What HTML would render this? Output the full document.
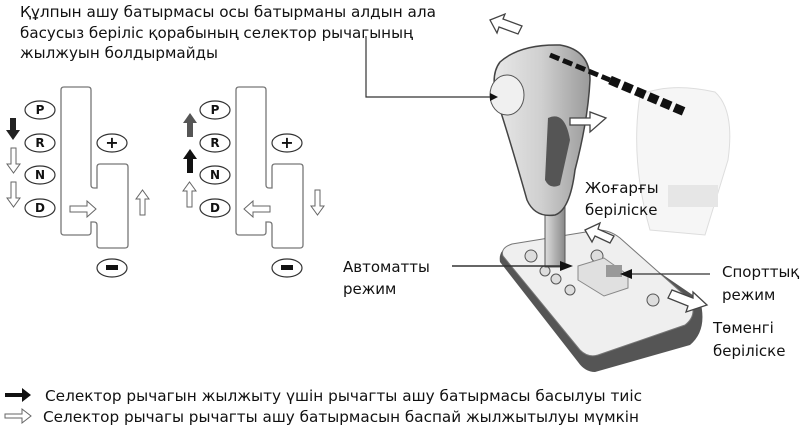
<!DOCTYPE html>
<html><head><meta charset="utf-8"><style>
html,body{margin:0;padding:0;background:#fff;}
svg{display:block;}
text{font-family:"DejaVu Sans","Liberation Sans",sans-serif;fill:#111;}
</style></head><body>
<svg width="800" height="431" viewBox="0 0 800 431" xmlns="http://www.w3.org/2000/svg">
<defs>
<linearGradient id="kg" x1="0" x2="1" y1="0" y2="0">
<stop offset="0" stop-color="#e8e8e8"/><stop offset="0.5" stop-color="#cfcfcf"/><stop offset="1" stop-color="#9a9a9a"/></linearGradient>
<linearGradient id="sg" x1="0" x2="1"><stop offset="0" stop-color="#ddd"/><stop offset="1" stop-color="#888"/></linearGradient>
<g id="oval"><ellipse cx="0" cy="0" rx="15" ry="9" fill="#fff" stroke="#333" stroke-width="1.2"/></g>
<g id="gate">
<path d="M61,90 Q61,87 64,87 L88,87 Q91,87 91,90 L91,185 Q91,188 94,188 L97,188 L97,167 Q97,164 100,164 L125,164 Q128,164 128,167 L128,245 Q128,248 125,248 L100,248 Q97,248 97,245 L97,225 Q97,222 94,222 L91,222 L91,232 Q91,235 88,235 L64,235 Q61,235 61,232 Z" fill="none" stroke="#777" stroke-width="1.3"/>
</g>
</defs>

<!-- top text -->
<text x="20" y="17" font-size="15" textLength="416" lengthAdjust="spacingAndGlyphs">Құлпын ашу батырмасы осы батырманы алдын ала</text>
<text x="20" y="38" font-size="15" textLength="393" lengthAdjust="spacingAndGlyphs">басусыз беріліс қорабының селектор рычагының</text>
<text x="20" y="58" font-size="15" textLength="198" lengthAdjust="spacingAndGlyphs">жылжуын болдырмайды</text>

<!-- left diagram 1 -->
<use href="#gate"/>
<g font-family="Liberation Sans" font-weight="bold" font-size="12" text-anchor="middle">
<use href="#oval" x="40" y="110"/><text x="40" y="114">P</text>
<use href="#oval" x="40" y="143"/><text x="40" y="147">R</text>
<use href="#oval" x="40" y="175"/><text x="40" y="179">N</text>
<use href="#oval" x="40" y="208"/><text x="40" y="212">D</text>
<use href="#oval" x="112" y="143"/><text x="112" y="148" font-size="16">+</text>
<use href="#oval" x="112" y="268"/><rect x="106" y="265" width="12" height="5" fill="#111"/>
</g>
<path d="M10,118 h6 v12 h4 l-7,10 l-7,-10 h4 Z" fill="#222"/>
<path d="M11,148 h5 v16 h4 l-6.5,9 l-6.5,-9 h4 Z" fill="#fff" stroke="#666"/>
<path d="M11,182 h5 v16 h4 l-6.5,9 l-6.5,-9 h4 Z" fill="#fff" stroke="#666"/>
<path d="M70,206 h17 v-5 l9,8 l-9,8 v-5 h-17 Z" fill="#fff" stroke="#666"/>
<path d="M140,215 v-16 h-4 l6.5,-9 l6.5,9 h-4 v16 Z" fill="#fff" stroke="#666"/>

<!-- left diagram 2 -->
<g transform="translate(175,0)"><use href="#gate"/></g>
<g font-family="Liberation Sans" font-weight="bold" font-size="12" text-anchor="middle">
<use href="#oval" x="215" y="110"/><text x="215" y="114">P</text>
<use href="#oval" x="215" y="143"/><text x="215" y="147">R</text>
<use href="#oval" x="215" y="175"/><text x="215" y="179">N</text>
<use href="#oval" x="215" y="208"/><text x="215" y="212">D</text>
<use href="#oval" x="287" y="143"/><text x="287" y="148" font-size="16">+</text>
<use href="#oval" x="287" y="268"/><rect x="281" y="265" width="12" height="5" fill="#111"/>
</g>
<path d="M187,137 v-14 h-4 l7,-10 l7,10 h-4 v14 Z" fill="#555"/>
<path d="M187,173 v-14 h-4 l7,-10 l7,10 h-4 v14 Z" fill="#111"/>
<path d="M187,207 v-16 h-4 l6.5,-9 l6.5,9 h-4 v16 Z" fill="#fff" stroke="#666"/>
<path d="M270,206 h-17 v-5 l-9,8 l9,8 v-5 h17 Z" fill="#fff" stroke="#666"/>
<path d="M315,190 v16 h-4 l6.5,9 l6.5,-9 h-4 v-16 Z" fill="#fff" stroke="#666"/>

<!-- ghost knob -->
<path d="M640,95 Q670,82 715,92 Q735,110 728,160 L705,235 L650,230 Q630,160 640,95 Z" fill="#f6f6f6" stroke="#ddd"/>
<rect x="668" y="185" width="50" height="22" fill="#e6e6e6"/>

<!-- base -->
<path d="M500,262 Q498,250 510,246 L600,232 L700,300 Q708,330 690,345 L595,372 Q585,372 578,362 Z" fill="#555"/>
<path d="M503,256 Q500,248 512,244 L598,230 Q610,230 620,238 L690,300 Q698,315 685,325 L598,355 Q588,358 580,350 Z" fill="#efefef" stroke="#777"/>
<g fill="#ddd" stroke="#555">
<circle cx="531" cy="256" r="6"/><circle cx="597" cy="256" r="6"/><circle cx="545" cy="271" r="5"/><circle cx="556" cy="279" r="5"/><circle cx="570" cy="290" r="5"/><circle cx="653" cy="300" r="6"/>
</g>
<path d="M578,266 L604,258 L628,275 L628,288 L604,296 L578,280 Z" fill="#e0e0e0" stroke="#888"/>
<rect x="606" y="265" width="16" height="12" fill="#999"/>
<!-- shaft -->
<rect x="545" y="205" width="20" height="62" fill="url(#sg)" stroke="#555"/>
<!-- knob -->
<path d="M500,62 Q520,44 560,45 Q590,50 590,80 Q588,120 575,170 Q570,210 555,215 Q535,218 527,200 Q510,140 497,100 Q490,75 500,62 Z" fill="url(#kg)" stroke="#444" stroke-width="1.5"/>
<path d="M548,118 Q565,110 570,140 L560,185 Q550,190 545,180 Z" fill="#555"/>
<ellipse cx="507" cy="95" rx="17" ry="20" fill="#f0f0f0" stroke="#555"/>
<!-- dashed black -->
<g stroke="#111" stroke-dasharray="10 4">
<line x1="550" y1="55" x2="610" y2="80" stroke-width="5"/>
<line x1="610" y1="80" x2="685" y2="112" stroke-width="9"/>
</g>
<!-- callout lines -->
<polyline points="366,36 366,97 490,97" fill="none" stroke="#333" stroke-width="1.2"/>
<path d="M490,93 L498,97 L490,101 Z" fill="#111"/>
<line x1="452" y1="266" x2="568" y2="266" stroke="#333" stroke-width="1.5"/>
<path d="M560,261 L573,266 L560,271 Z" fill="#111"/>
<line x1="710" y1="274" x2="625" y2="274" stroke="#333" stroke-width="1.2"/>
<path d="M632,269 L620,274 L632,279 Z" fill="#111"/>

<!-- outline arrows -->
<path d="M490,20 L505,14 L503,19 L522,26 L518,34 L499,27 L497,33 Z" fill="#fff" stroke="#444" stroke-width="1.3"/>
<path d="M606,118 L590,112 L590,118 L570,118 L570,125 L590,125 L590,132 Z" fill="#fff" stroke="#444" stroke-width="1.3"/>
<path d="M585,230 L600,223 L598,229 L614,236 L610,243 L595,236 L592,242 Z" fill="#fff" stroke="#444" stroke-width="1.3"/>
<path d="M707,305 L693,292 L693,298 L672,290 L668,298 L688,306 L686,312 Z" fill="#fff" stroke="#444" stroke-width="1.3"/>

<!-- labels -->
<g font-size="15">
<text x="585" y="193">Жоғарғы</text>
<text x="585" y="215">беріліске</text>
<text x="343" y="272">Автоматты</text>
<text x="343" y="294">режим</text>
<text x="722" y="277">Спорттық</text>
<text x="722" y="300">режим</text>
<text x="713" y="333">Төменгі</text>
<text x="713" y="356">беріліске</text>
</g>

<!-- legend -->
<path d="M5,393 h17 v-5 l9,7 l-9,7 v-5 h-17 Z" fill="#111"/>
<path d="M5,414 h17 v-5 l9,7 l-9,7 v-5 h-17 Z" fill="#fff" stroke="#666"/>
<text x="45" y="401" font-size="15" textLength="597" lengthAdjust="spacingAndGlyphs">Селектор рычагын жылжыту үшін рычагты ашу батырмасы басылуы тиіс</text>
<text x="43" y="422" font-size="15" textLength="596" lengthAdjust="spacingAndGlyphs">Селектор рычагы рычагты ашу батырмасын баспай жылжытылуы мүмкін</text>
</svg>
</body></html>
